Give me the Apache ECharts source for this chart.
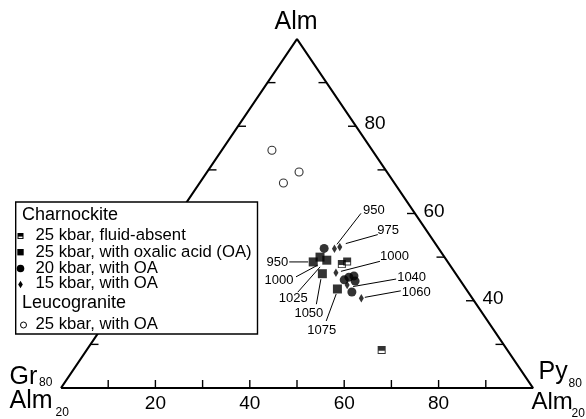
<!DOCTYPE html>
<html><head><meta charset="utf-8">
<script src="https://cdn.jsdelivr.net/npm/echarts@6/dist/echarts.min.js"></script>
<style>html,body{margin:0;padding:0;background:#fff}#c{width:586px;height:419px}</style>
</head><body><div id="c"></div>
<script>
// ---- data: each point is [Py, Alm] in mol% (Gr = 100 - Py - Alm) ----
const fluidAbsent25 = [[33.4, 48.4], [34.0, 49.0], [50.0, 28.7]];
const oxalic25 = [[28.3, 48.9], [28.9, 50.0], [30.4, 49.3], [31.2, 46.2], [35.5, 42.7]];
const oa20 = [[28.6, 52.0], [35.6, 44.8], [36.1, 45.4], [36.8, 45.7], [37.6, 44.5], [38.3, 42.0]];
const oa15 = [[30.4, 51.9], [31.1, 52.3], [33.4, 46.4], [36.7, 43.6], [40.6, 40.6]];
const leuco25 = [[8.5, 74.5], [14.2, 67.0], [15.6, 69.5]];

const bottomTickValues = [10, 20, 30, 40, 50, 60, 70, 80, 90]; // Py/(Py+Gr) %
const bottomTickLabels = [20, 40, 60, 80];
const edgeTickValues = [30, 40, 50, 60, 70, 80, 90];            // Alm %
const rightTickLabels = [80, 60, 40];

const annotationTexts = ['950', '975', '1000', '1040', '1060', '950', '1000', '1025', '1050', '1075'];
const annotationTargets = [['oa15', 0], ['oa15', 1], ['oa15', 2], ['oa15', 3], ['oa15', 4],
  ['oxalic25', 0], ['oxalic25', 1], ['oxalic25', 2], ['oxalic25', 3], ['oxalic25', 4]];

// ---- layout (pixel offsets of leader lines / labels relative to their point) ----
const annotationLayout = [
  {p1: [2.5, -4.5], p2: [26.5, -35.5], t: [28.5, -38], align: 'left'},
  {p1: [6, -3.5], p2: [38, -12.5], t: [37.5, -17], align: 'left'},
  {p1: [5, -1.5], p2: [44, -11.5], t: [44, -16.5], align: 'left'},
  {p1: [6, 1.5], p2: [49, -6], t: [50, -8], align: 'left'},
  {p1: [3.5, -0.8], p2: [39.5, -7.3], t: [40.5, -5.3], align: 'left'},
  {p1: [-5, 0], p2: [-24, 0], t: [-25, 0], align: 'right'},
  {p1: [-2.3, 8], p2: [-24, 19.7], t: [-26.5, 23], align: 'right'},
  {p1: [-6.7, 6.7], p2: [-29, 32], t: [-33.5, 38.5], align: 'center'},
  {p1: [-1.5, 5.5], p2: [-6, 30.5], t: [-13.5, 39.5], align: 'center'},
  {p1: [-1.2, 5], p2: [-11.2, 32], t: [-15.7, 41], align: 'center'}
];

const FONT = '"Liberation Sans", Arial, Helvetica, sans-serif';
// ternary projection (sub-triangle Alm >= 20): x = Py + Alm/2, y = Alm
const toXY = p => [p[0] + p[1] / 2, p[1]];
const seriesMap = {fluidAbsent25, oxalic25, oa20, oa15, leuco25};
const halfSquare = 'path://M0,0L10,0L10,10L0,10ZM1.2,6L1.2,8.8L8.8,8.8L8.8,6Z';

const chart = echarts.init(document.getElementById('c'), null, {renderer: 'canvas'});

function tickSeries(data, dx, dy) {
  return {
    type: 'custom', clip: false, silent: true, z: 3, data,
    renderItem: (params, api) => {
      const p = api.coord([api.value(0), api.value(1)]);
      return {type: 'line', shape: {x1: p[0], y1: p[1], x2: p[0] + dx, y2: p[1] + dy},
        style: {stroke: '#000', lineWidth: 1.4}};
    }
  };
}
function labelSeries(data, dx, dy, align) {
  return {
    type: 'custom', clip: false, silent: true, z: 3, data,
    renderItem: (params, api) => {
      const p = api.coord([api.value(0), api.value(1)]);
      return {type: 'text', style: {text: String(api.value(2)), x: p[0] + dx, y: p[1] + dy,
        align, verticalAlign: 'middle', font: '19px ' + FONT, fill: '#000'}};
    }
  };
}

const option = {
  animation: false,
  backgroundColor: '#fff',
  grid: {left: 61, right: 53, top: 39, bottom: 31},
  xAxis: {type: 'value', min: 10, max: 90, show: false},
  yAxis: {type: 'value', min: 20, max: 100, show: false},
  series: [
    {type: 'line', name: 'frame', data: [[10, 20], [50, 100], [90, 20], [10, 20]], symbol: 'none',
      clip: false, silent: true, z: 2, lineStyle: {color: '#000', width: 2.2}},
    tickSeries(bottomTickValues.map(r => [10 + 0.8 * r, 20]), 0, -8),
    tickSeries(edgeTickValues.map(a => [50 - (100 - a) / 2, a]), 8, 0),
    tickSeries(edgeTickValues.map(a => [50 + (100 - a) / 2, a]), -8, 0),
    labelSeries(bottomTickLabels.map(r => [10 + 0.8 * r, 20, r]), 0, 16, 'center'),
    labelSeries(rightTickLabels.map(a => [50 + (100 - a) / 2, a, a]), 8.5, -2, 'left'),
    {type: 'custom', name: 'annotations', clip: false, silent: true, z: 4,
      data: annotationTargets.map((t, i) => [...toXY(seriesMap[t[0]][t[1]]), i]),
      renderItem: (params, api) => {
        const p = api.coord([api.value(0), api.value(1)]);
        const L = annotationLayout[api.value(2)];
        return {type: 'group', children: [
          {type: 'line', shape: {x1: p[0] + L.p1[0], y1: p[1] + L.p1[1], x2: p[0] + L.p2[0], y2: p[1] + L.p2[1]},
            style: {stroke: '#000', lineWidth: 1}},
          {type: 'text', style: {text: annotationTexts[api.value(2)], x: p[0] + L.t[0], y: p[1] + L.t[1],
            align: L.align, verticalAlign: 'middle', font: '13px ' + FONT, fill: '#000'}}
        ]};
      }},
    {type: 'scatter', name: '15 kbar, with OA', data: oa15.map(toXY), symbol: 'diamond',
      symbolSize: [5, 8.5], itemStyle: {color: '#000'}, z: 5},
    {type: 'scatter', name: '20 kbar, with OA', data: oa20.map(toXY), symbol: 'circle',
      symbolSize: 9, itemStyle: {color: '#000'}, z: 5},
    {type: 'scatter', name: '25 kbar, with oxalic acid (OA)', data: oxalic25.map(toXY), symbol: 'rect',
      symbolSize: 9, itemStyle: {color: '#000'}, z: 5},
    {type: 'scatter', name: '25 kbar, fluid-absent', data: fluidAbsent25.map(toXY), symbol: halfSquare,
      symbolSize: 8, itemStyle: {color: '#000'}, z: 6},
    {type: 'scatter', name: 'Leucogranite 25 kbar, with OA', data: leuco25.map(toXY), symbol: 'circle',
      symbolSize: 8, itemStyle: {color: '#fff', borderColor: '#000', borderWidth: 1.1}, z: 5}
  ],
  graphic: [
    // vertex labels
    {type: 'text', z: 50, style: {text: 'Alm', x: 296, y: 22.5, align: 'center', verticalAlign: 'middle', font: '25px ' + FONT, fill: '#000'}},
    {type: 'text', z: 50, style: {text: 'Gr', x: 9.5, y: 377.5, align: 'left', verticalAlign: 'middle', font: '25px ' + FONT, fill: '#000'}},
    {type: 'text', z: 50, style: {text: '80', x: 39, y: 382.7, align: 'left', verticalAlign: 'middle', font: '12px ' + FONT, fill: '#000'}},
    {type: 'text', z: 50, style: {text: 'Alm', x: 9.5, y: 401, align: 'left', verticalAlign: 'middle', font: '25px ' + FONT, fill: '#000'}},
    {type: 'text', z: 50, style: {text: '20', x: 55.5, y: 412.4, align: 'left', verticalAlign: 'middle', font: '12px ' + FONT, fill: '#000'}},
    {type: 'text', z: 50, style: {text: 'Py', x: 538.5, y: 372, align: 'left', verticalAlign: 'middle', font: '25px ' + FONT, fill: '#000'}},
    {type: 'text', z: 50, style: {text: '80', x: 568.5, y: 383.7, align: 'left', verticalAlign: 'middle', font: '12px ' + FONT, fill: '#000'}},
    {type: 'text', z: 50, style: {text: 'Alm', x: 531.5, y: 402.5, align: 'left', verticalAlign: 'middle', font: '24px ' + FONT, fill: '#000'}},
    {type: 'text', z: 50, style: {text: '20', x: 571.5, y: 413.7, align: 'left', verticalAlign: 'middle', font: '12px ' + FONT, fill: '#000'}},
    // legend box
    {type: 'group', z: 100, children: [
      {type: 'rect', z: 100, shape: {x: 15.7, y: 202, width: 241.8, height: 132},
        style: {fill: '#fff', stroke: '#000', lineWidth: 1.4}},
      {type: 'text', z: 101, style: {text: 'Charnockite', x: 22, y: 215.5, verticalAlign: 'middle', font: '18px ' + FONT, fill: '#000'}},
      {type: 'rect', z: 101, shape: {x: 17.5, y: 233, width: 6, height: 6}, style: {fill: '#000'}},
      {type: 'rect', z: 102, shape: {x: 18.5, y: 236.6, width: 4, height: 1.5}, style: {fill: '#fff'}},
      {type: 'text', z: 101, style: {text: '25 kbar, fluid-absent', x: 35.5, y: 235.5, verticalAlign: 'middle', font: '16.7px ' + FONT, fill: '#000'}},
      {type: 'rect', z: 101, shape: {x: 17.3, y: 249, width: 6.4, height: 6.4}, style: {fill: '#000'}},
      {type: 'text', z: 101, style: {text: '25 kbar, with oxalic acid (OA)', x: 35.5, y: 252, verticalAlign: 'middle', font: '16.7px ' + FONT, fill: '#000'}},
      {type: 'circle', z: 101, shape: {cx: 20.5, cy: 268.5, r: 3.8}, style: {fill: '#000'}},
      {type: 'text', z: 101, style: {text: '20 kbar, with OA', x: 35.5, y: 268, verticalAlign: 'middle', font: '16.7px ' + FONT, fill: '#000'}},
      {type: 'polygon', z: 101, shape: {points: [[20.5, 280.7], [22.8, 284.5], [20.5, 288.3], [18.2, 284.5]]}, style: {fill: '#000'}},
      {type: 'text', z: 101, style: {text: '15 kbar, with OA', x: 35.5, y: 283.5, verticalAlign: 'middle', font: '16.7px ' + FONT, fill: '#000'}},
      {type: 'text', z: 101, style: {text: 'Leucogranite', x: 22, y: 303.5, verticalAlign: 'middle', font: '18px ' + FONT, fill: '#000'}},
      {type: 'circle', z: 101, shape: {cx: 23.5, cy: 325, r: 3}, style: {fill: '#fff', stroke: '#000', lineWidth: 1}},
      {type: 'text', z: 101, style: {text: '25 kbar, with OA', x: 35.5, y: 324.5, verticalAlign: 'middle', font: '16.7px ' + FONT, fill: '#000'}}
    ]}
  ]
};
chart.setOption(option);
</script>
</body></html>
